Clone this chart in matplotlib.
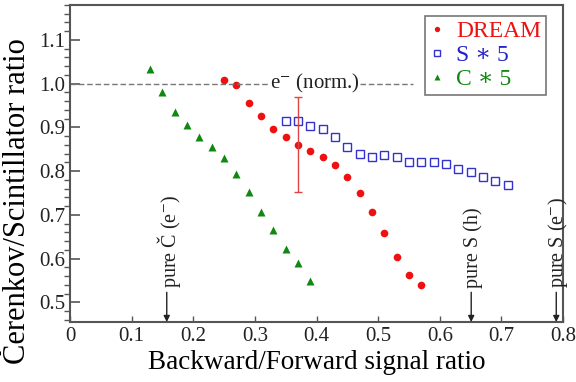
import numpy as np
import matplotlib
matplotlib.use("Agg")
import matplotlib.pyplot as plt
from matplotlib.ticker import MultipleLocator, FixedLocator, FuncFormatter

plt.rcParams['font.family'] = ['Liberation Serif', 'DejaVu Serif']
plt.rcParams['mathtext.fontset'] = 'stix'

# DREAM combined ratio
dream_x = [0.25, 0.27, 0.29, 0.31, 0.33, 0.35, 0.37, 0.39, 0.41,
           0.43, 0.45, 0.47, 0.49, 0.51, 0.53, 0.55, 0.57]
dream_y = [1.008, 0.997, 0.955, 0.926, 0.897, 0.878, 0.860, 0.846, 0.832,
           0.813, 0.786, 0.749, 0.706, 0.658, 0.603, 0.562, 0.539]
# one representative error bar
err_x = 0.37
err_y = 0.860
err_lo = 0.752
err_hi = 0.970

# scintillator signal scaled by 5
s_x = [0.35, 0.37, 0.39, 0.41, 0.43, 0.45, 0.47, 0.49, 0.51, 0.53,
       0.55, 0.57, 0.59, 0.61, 0.63, 0.65, 0.67, 0.69, 0.71]
s_y = [0.914, 0.914, 0.904, 0.897, 0.879, 0.856, 0.840, 0.832, 0.836, 0.832,
       0.820, 0.820, 0.820, 0.817, 0.805, 0.799, 0.786, 0.777, 0.768]

# Cerenkov signal scaled by 5
c_x = [0.13, 0.15, 0.17, 0.19, 0.21, 0.23, 0.25, 0.27, 0.29, 0.31,
       0.33, 0.35, 0.37, 0.39]
c_y = [1.034, 0.980, 0.936, 0.905, 0.877, 0.856, 0.829, 0.794, 0.753, 0.706,
       0.665, 0.621, 0.591, 0.549]

# pure-component reference positions
pure_labels = ['pure Č (e$^{-}$)', 'pure S (h)', 'pure S (e$^{-}$)']
pure_x = [0.157, 0.651, 0.789]

x_ticks = [0, 0.1, 0.2, 0.3, 0.4, 0.5, 0.6, 0.7, 0.8]
y_ticks = [0.5, 0.6, 0.7, 0.8, 0.9, 1.0, 1.1]

fig = plt.figure(figsize=(5.76, 3.82), dpi=100)
ax = fig.add_axes([0.1215, 0.157, 0.856, 0.830])

ax.plot(dream_x, dream_y, 'o', color='#ee1111', ms=5.5, mec='none', label='DREAM')
ax.plot(s_x, s_y, 's', mfc='none', mec='#3333cc', mew=1.0, ms=5.5, label='S ∗ 5')
ax.plot(c_x, c_y, '^', color='#118811', ms=6, mec='none', label='C ∗ 5')
ax.errorbar([err_x], [err_y], yerr=[[err_y - err_lo], [err_hi - err_y]],
            fmt='none', ecolor='#dd4444', elinewidth=1, capsize=3, capthick=1)

# electron normalisation line
ax.plot([0, 0.325], [1.0, 1.0], color='#777777', lw=1, dashes=(4, 2))
ax.plot([0.47, 0.557], [1.0, 1.0], color='#777777', lw=1, dashes=(4, 2))
ax.text(0.398, 1.0, 'e$^{-}$ (norm.)', ha='center', va='center', fontsize=15,
        color='#222222')

ymin = 0.455
for lab, xp in zip(pure_labels, pure_x):
    ax.text(xp + 0.003, 0.532, lab, rotation=90, ha='center', va='bottom',
            fontsize=14.5, color='#222222')
    ax.annotate('', xy=(xp, ymin), xytext=(xp, 0.523),
                arrowprops=dict(arrowstyle='-|>', color='#222222', lw=1,
                                mutation_scale=9, shrinkA=0, shrinkB=0))

ax.set_xlim(0, 0.8)
ax.set_ylim(ymin, 1.18)
ax.xaxis.set_major_locator(FixedLocator(x_ticks))
ax.xaxis.set_major_formatter(FuncFormatter(lambda v, p: '0' if abs(v) < 1e-9 else '%.1f' % v))
ax.yaxis.set_major_locator(FixedLocator(y_ticks))
ax.yaxis.set_minor_locator(MultipleLocator(0.02))
ax.yaxis.set_major_formatter(FuncFormatter(lambda v, p: '%.1f' % v))
ax.tick_params(direction='in', labelsize=15, colors='#222222')
ax.tick_params(axis='y', which='major', length=7, width=1.2, color='#555555')
ax.tick_params(axis='y', which='minor', length=4, width=1.0, color='#555555')
ax.tick_params(axis='x', which='major', length=4, width=1.0, color='#555555')
for sp in ax.spines.values():
    sp.set_color('#555555')
    sp.set_linewidth(1.5)

ax.set_xlabel('Backward/Forward signal ratio', fontsize=19.5, labelpad=3)
ax.set_ylabel('Čerenkov/Scintillator ratio', fontsize=22)
ax.yaxis.set_label_coords(-0.078, 0.38)

leg = ax.legend(loc='upper right', bbox_to_anchor=(0.965, 0.965), fontsize=17,
                frameon=True, fancybox=False, handlelength=0.6,
                handletextpad=0.5, borderpad=0.2, labelspacing=0.1,
                markerscale=0.7, borderaxespad=0)
leg.get_frame().set_edgecolor('#555555')
leg.get_frame().set_linewidth(1.2)
for txt, col in zip(leg.get_texts(), ['#ee1111', '#2222cc', '#118811']):
    txt.set_color(col)

fig.savefig('out.png', dpi=100)
